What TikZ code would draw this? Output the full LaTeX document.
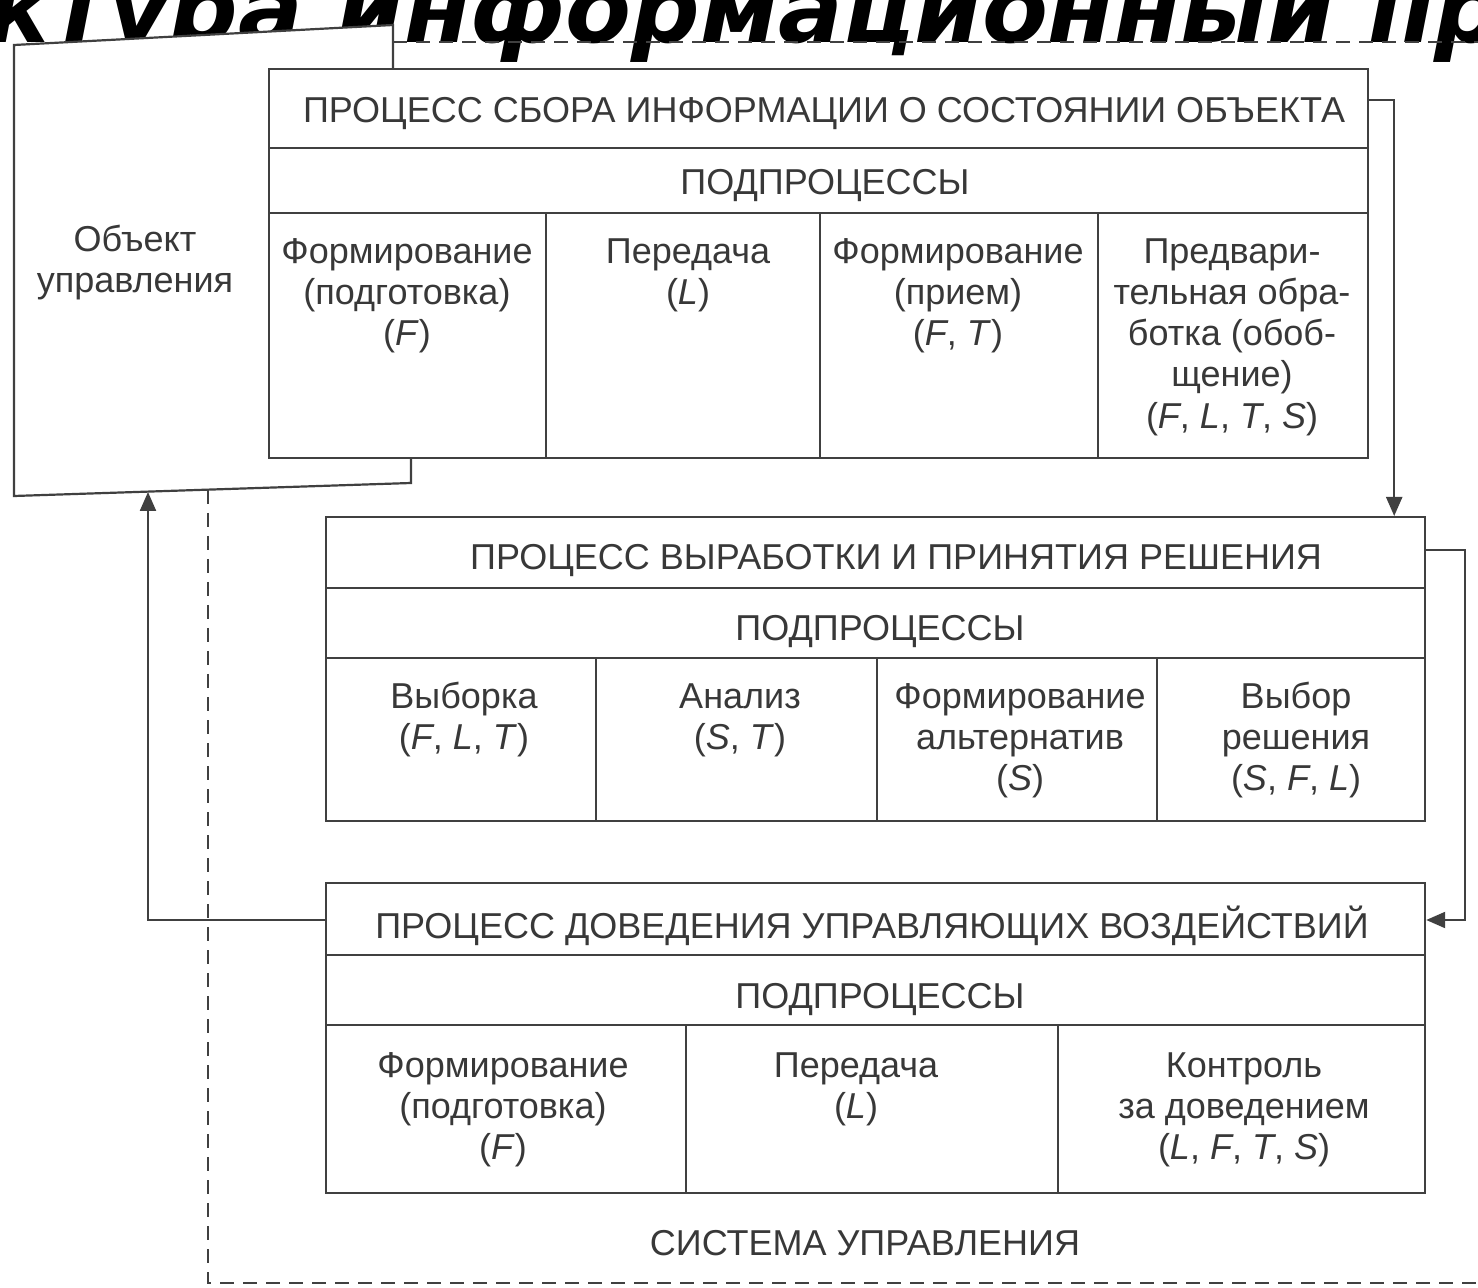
\documentclass[tikz,border=0pt]{standalone}
\usepackage{fontspec}
\setmainfont{Liberation Sans}
\newfontfamily\titlefont{DejaVu Sans}
\usetikzlibrary{arrows.meta}

\definecolor{ink}{HTML}{383838}
\definecolor{rule}{HTML}{404040}

\begin{document}
\begin{tikzpicture}[x=0.5pt,y=-0.5pt,
  frame/.style={draw=rule, line width=1.1pt, fill=white, inner sep=0pt, anchor=north west},
  sep/.style={draw=rule, line width=1.1pt},
  txt/.style={text=ink, font=\fontsize{18}{20.6}\selectfont, inner sep=0pt},
  head/.style={txt, anchor=base},
  cell/.style={txt, align=center, anchor=north},
  flow/.style={draw=rule, line width=1.1pt, -{Triangle[length=9.5pt,width=8pt]}},
  bound/.style={draw=rule, line width=1pt, dash pattern=on 7pt off 4.5pt},
  headline/.style={inner sep=0pt, anchor=base west, text=black,
    font=\titlefont\fontsize{48}{50}\selectfont\bfseries\itshape},
]
\useasboundingbox (0,0) rectangle (1478,1288);

% slide heading, cut by the upper edge
\begin{scope}
  \clip (0,0) rectangle (1478,1288);
  \node[headline] (heading) at (-14,43) {ктура информационный пр};
\end{scope}

% system boundary (dashed)
\draw[bound] (393,42) -- (1478,42);
\draw[bound] (208,490) -- (208,1283) -- (1478,1283);

% controlled object
\draw[frame] (14,45) -- (393,25) -- (393,200) -- (411,200) -- (411,483) -- (14,496) -- cycle;
\node[cell] (obj) at (135,222) {\strut Объект\\управления};
\coordinate (objin) at (148,492);

% process 1: information gathering
\node[frame, minimum width=549.5pt, minimum height=194.5pt] (p1) at (268,68) {};
\draw[sep] (p1.west |- 0,148) -- (p1.east |- 0,148);
\draw[sep] (p1.west |- 0,213) -- (p1.east |- 0,213);
\foreach \cx in {546,820,1098} \draw[sep] (\cx,213) -- (\cx,457);
\node[head] (p1t) at (824,123) {ПРОЦЕСС СБОРА ИНФОРМАЦИИ О СОСТОЯНИИ ОБЪЕКТА};
\node[head] (p1s) at (825,195) {ПОДПРОЦЕССЫ};
\node[cell] (p1a) at (407,234) {\strut Формирование\\(подготовка)\\(\textit{F})};
\node[cell] (p1b) at (688,234) {\strut Передача\\(\textit{L})};
\node[cell] (p1c) at (958,234) {\strut Формирование\\(прием)\\(\textit{F}, \textit{T})};
\node[cell] (p1d) at (1232,234) {\strut Предвари-\\тельная обра-\\ботка (обоб-\\щение)\\(\textit{F}, \textit{L}, \textit{T}, \textit{S})};

% process 2: decision making
\node[frame, minimum width=549.5pt, minimum height=152pt] (p2) at (325,516) {};
\draw[sep] (p2.west |- 0,588) -- (p2.east |- 0,588);
\draw[sep] (p2.west |- 0,658) -- (p2.east |- 0,658);
\foreach \cx in {596,877,1157} \draw[sep] (\cx,658) -- (\cx,820);
\node[head] (p2t) at (896,570) {ПРОЦЕСС ВЫРАБОТКИ И ПРИНЯТИЯ РЕШЕНИЯ};
\node[head] (p2s) at (880,641) {ПОДПРОЦЕССЫ};
\node[cell] (p2a) at (464,679) {\strut Выборка\\(\textit{F}, \textit{L}, \textit{T})};
\node[cell] (p2b) at (740,679) {\strut Анализ\\(\textit{S}, \textit{T})};
\node[cell] (p2c) at (1020,679) {\strut Формирование\\альтернатив\\(\textit{S})};
\node[cell] (p2d) at (1296,679) {\strut Выбор\\решения\\(\textit{S}, \textit{F}, \textit{L})};

% process 3: delivering control actions
\node[frame, minimum width=549.5pt, minimum height=155pt] (p3) at (325,882) {};
\draw[sep] (p3.west |- 0,955) -- (p3.east |- 0,955);
\draw[sep] (p3.west |- 0,1025) -- (p3.east |- 0,1025);
\foreach \cx in {686,1058} \draw[sep] (\cx,1025) -- (\cx,1192);
\node[head] (p3t) at (872,938) {ПРОЦЕСС ДОВЕДЕНИЯ УПРАВЛЯЮЩИХ ВОЗДЕЙСТВИЙ};
\node[head] (p3s) at (880,1008) {ПОДПРОЦЕССЫ};
\node[cell] (p3a) at (503,1048) {\strut Формирование\\(подготовка)\\(\textit{F})};
\node[cell] (p3b) at (856,1048) {\strut Передача\\(\textit{L})};
\node[cell] (p3c) at (1244,1048) {\strut Контроль\\за доведением\\(\textit{L}, \textit{F}, \textit{T}, \textit{S})};

\node[head] (sys) at (865,1255) {СИСТЕМА УПРАВЛЕНИЯ};

% information / control flow
\draw[flow] ([yshift=-16pt]p1.north east) -| ([xshift=-16pt]p2.north east);
\draw[flow] ([yshift=-17pt]p2.north east) -- ++(19.5pt,0) |- ([yshift=-19pt]p3.north east);
\draw[flow] ([yshift=-19pt]p3.north west) -| (objin);
\end{tikzpicture}
\end{document}
